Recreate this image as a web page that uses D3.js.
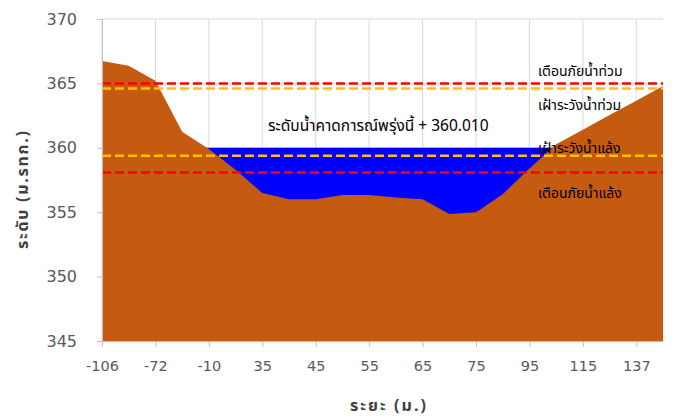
<!DOCTYPE html>
<html>
<head>
<meta charset="utf-8">
<script src="https://cdn.jsdelivr.net/npm/d3@7"></script>
<style>
  body { margin: 0; background: #fff; }
  svg { display: block; }
  .thai { font-family: Tahoma, "Noto Sans Thai", "Loma", "Garuda", sans-serif; }
</style>
</head>
<body>
<div id="chart"></div>
<script>
// distance from left bank (m.) - every other one is labelled on the axis
const distances = ['-106', '-90', '-72', '-40', '-10', '15', '35', '40', '45', '50', '55',
  '60', '65', '70', '75', '85', '95', '105', '115', '125', '137', '145']
// ground level (m. MSL)
const ground = [366.74, 366.37, 365.2, 361.25, 359.9, 358.3, 356.5, 356.0, 356.0, 356.34, 356.34,
  356.15, 356.0, 354.86, 355.0, 356.4, 358.4, 360.28, 361.4, 362.55, 363.66, 364.8]
const waterLevel = 360.01
const levels = [
  { name: 'เตือนภัยน้ำท่วม', value: 365.0, color: '#FF0000' },
  { name: 'เฝ้าระวังน้ำท่วม', value: 364.6, color: '#FFC000' },
  { name: 'เฝ้าระวังน้ำแล้ง', value: 359.38, color: '#FFC000' },
  { name: 'เตือนภัยน้ำแล้ง', value: 358.08, color: '#FF0000' }
]
const yTicks = [345, 350, 355, 360, 365, 370]

const width = 684, height = 418
const margin = { top: 19, right: 21, bottom: 77, left: 102 }

const svg = d3.select('#chart').append('svg')
    .attr('width', width)
    .attr('height', height)

const x = d3.scalePoint().domain(distances).range([margin.left, width - margin.right])
const y = d3.scaleLinear().domain([345, 370]).range([height - margin.bottom, margin.top])

const labelled = distances.filter((d, i) => i % 2 === 0)

// grid
svg.append('g')
    .selectAll('line')
    .data(labelled)
    .enter().append('line')
    .attr('x1', d => x(d)).attr('x2', d => x(d))
    .attr('y1', y(370)).attr('y2', y(345))
    .attr('stroke', '#D9D9D9')
svg.append('g')
    .selectAll('line')
    .data(yTicks)
    .enter().append('line')
    .attr('x1', x.range()[0]).attr('x2', x.range()[1])
    .attr('y1', d => y(d)).attr('y2', d => y(d))
    .attr('stroke', '#D9D9D9')

// water (drawn under the ground)
const water = d3.area()
    .x(d => x(d))
    .y0(y(345))
    .y1(y(waterLevel))
svg.append('path')
    .datum(distances)
    .attr('d', water)
    .attr('fill', '#0000FF')

const land = d3.area()
    .x((d, i) => x(distances[i]))
    .y0(y(345))
    .y1(d => y(d))
svg.append('path')
    .datum(ground)
    .attr('d', land)
    .attr('fill', '#C55A11')

// threshold lines
svg.append('g')
    .selectAll('line')
    .data(levels)
    .enter().append('line')
    .attr('x1', x.range()[0]).attr('x2', x.range()[1])
    .attr('y1', d => y(d.value)).attr('y2', d => y(d.value))
    .attr('stroke', d => d.color)
    .attr('stroke-width', 2.5)
    .attr('stroke-dasharray', '9,4')

// axes
const xAxis = svg.append('g')
    .attr('transform', 'translate(0,' + y(345) + ')')
    .call(d3.axisBottom(x).tickValues(labelled).tickSize(6).tickSizeOuter(0).tickPadding(14))
const yAxis = svg.append('g')
    .attr('transform', 'translate(' + margin.left + ',0)')
    .call(d3.axisLeft(y).tickValues(yTicks).tickSize(5).tickSizeOuter(0).tickPadding(20))

for (const ax of [xAxis, yAxis]) {
  ax.select('.domain').attr('stroke', '#BFBFBF')
  ax.selectAll('.tick line').attr('stroke', '#BFBFBF')
  ax.selectAll('.tick text')
      .attr('fill', '#595959')
      .attr('font-family', 'DejaVu Sans, sans-serif')
}
xAxis.selectAll('.tick text').attr('font-size', 14.5)
yAxis.selectAll('.tick text').attr('font-size', 16)

// axis titles
svg.append('text')
    .attr('class', 'thai')
    .attr('transform', 'translate(28,190) rotate(-90)')
    .attr('text-anchor', 'middle')
    .attr('font-size', 16)
    .attr('font-weight', 'bold')
    .attr('fill', '#404040')
    .attr('textLength', 118)
    .attr('lengthAdjust', 'spacing')
    .text('ระดับ (ม.รทก.)')
svg.append('text')
    .attr('class', 'thai')
    .attr('x', 388)
    .attr('y', 411)
    .attr('text-anchor', 'middle')
    .attr('font-size', 16)
    .attr('font-weight', 'bold')
    .attr('fill', '#404040')
    .attr('textLength', 76)
    .attr('lengthAdjust', 'spacing')
    .text('ระยะ (ม.)')

// annotations
const labelOffsets = [-7, 21, -3, 25]
svg.append('g')
    .selectAll('text')
    .data(levels)
    .enter().append('text')
    .attr('class', 'thai')
    .attr('x', 538)
    .attr('y', (d, i) => y(d.value) + labelOffsets[i])
    .attr('font-size', 14)
    .attr('fill', '#000')
    .text(d => d.name)

svg.append('text')
    .attr('class', 'thai')
    .attr('x', 268)
    .attr('y', 131)
    .attr('font-size', 15.5)
    .attr('fill', '#000')
    .text('ระดับน้ำคาดการณ์พรุ่งนี้ + ' + waterLevel.toFixed(3))
</script>
</body>
</html>
